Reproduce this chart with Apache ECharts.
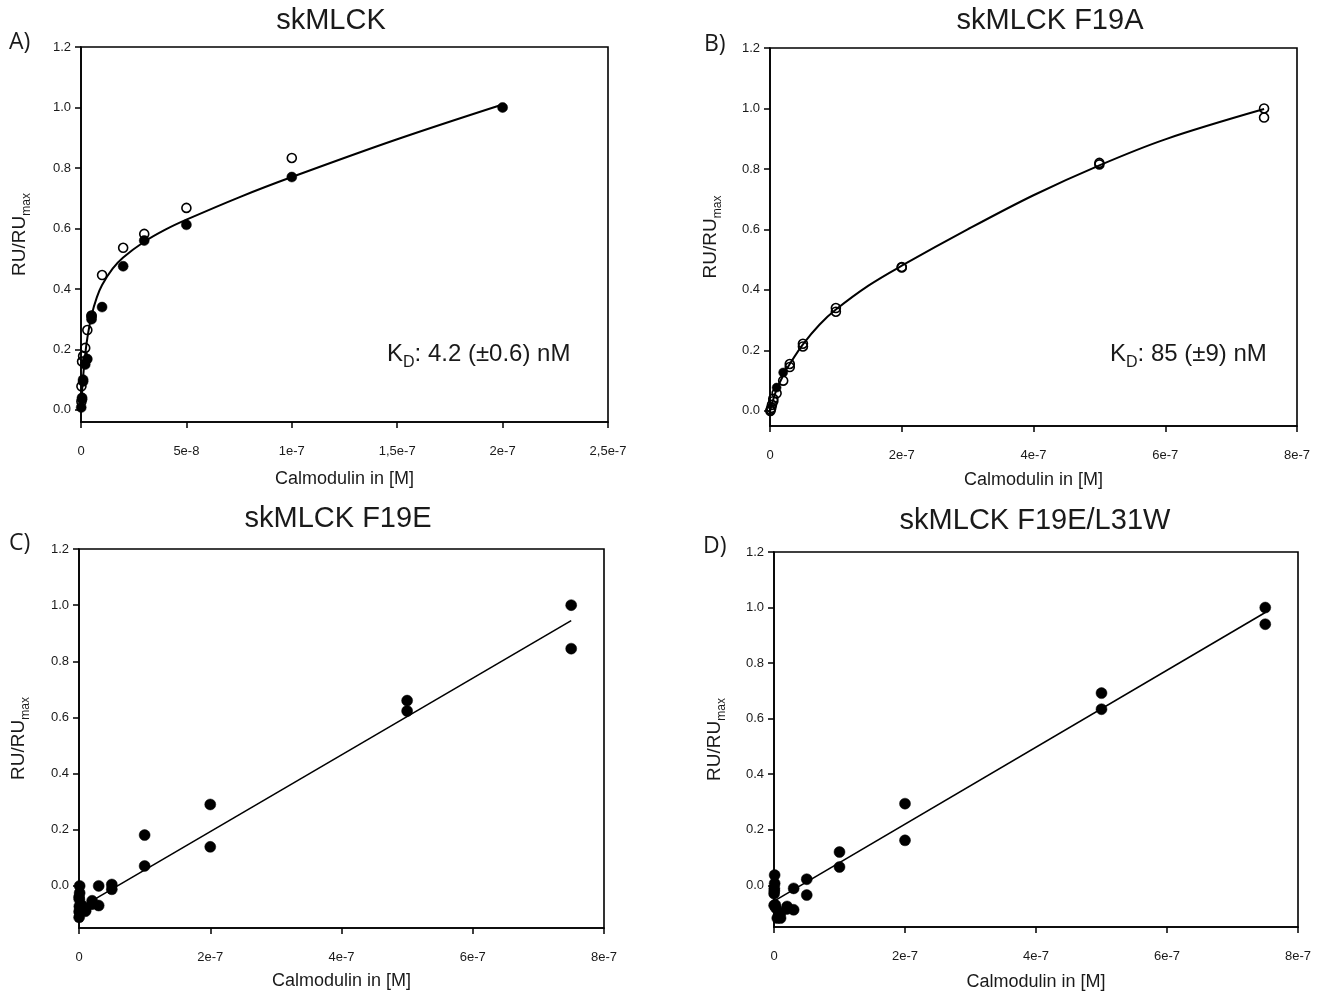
<!DOCTYPE html>
<html>
<head>
<meta charset="utf-8">
<script src="https://cdn.jsdelivr.net/npm/echarts@6/dist/echarts.min.js"></script>
<style>
html,body{margin:0;padding:0;background:#fff;}
#chart{width:1324px;height:992px;}
</style>
</head>
<body>
<div id="chart"></div>
<script>
// ---------- DATA ----------
const yTickVals = [0, 0.2, 0.4, 0.6, 0.8, 1.0, 1.2];
const yTickLabels = ['0.0', '0.2', '0.4', '0.6', '0.8', '1.0', '1.2'];
const xTickValsA = [0, 5e-8, 1e-7, 1.5e-7, 2e-7, 2.5e-7];
const xTickLabelsA = ['0', '5e-8', '1e-7', '1,5e-7', '2e-7', '2,5e-7'];
const xTickValsBCD = [0, 2e-7, 4e-7, 6e-7, 8e-7];
const xTickLabelsBCD = ['0', '2e-7', '4e-7', '6e-7', '8e-7'];
const panelTitles = ['skMLCK', 'skMLCK F19A', 'skMLCK F19E', 'skMLCK F19E/L31W'];
const panelLetters = ['A)', 'B)', 'C)', 'D)'];
const xAxisTitle = 'Calmodulin in [M]';
const kdA = '4.2 (±0.6) nM';
const kdB = '85 (±9) nM';
const yMins = [-0.04, -0.05, -0.15, -0.15];
const xMaxs = [2.5e-7, 8e-7, 8e-7, 8e-7];

// Panel A
const aFilled = [[2e-7, 1.0], [1e-7, 0.77], [5e-8, 0.612], [3e-8, 0.56], [2e-8, 0.475], [1e-8, 0.34],
  [5e-9, 0.30], [5e-9, 0.31], [3e-9, 0.168], [2e-9, 0.15], [1e-9, 0.10], [1e-9, 0.094], [5e-10, 0.04], [5e-10, 0.035], [1e-10, 0.008]];
const aOpen = [[1e-7, 0.833], [5e-8, 0.668], [3e-8, 0.582], [2e-8, 0.536], [1e-8, 0.446], [5e-9, 0.312],
  [3e-9, 0.264], [2e-9, 0.205], [1e-9, 0.178], [5e-10, 0.16], [2e-10, 0.078], [2e-10, 0.028]];
const aCurve = [[0, 0], [5e-10, 0.058], [1e-9, 0.109], [2e-9, 0.183], [3e-9, 0.237], [5e-9, 0.312], [7.5e-9, 0.372],
  [1e-8, 0.413], [1.5e-8, 0.467], [2e-8, 0.504], [3e-8, 0.556], [4e-8, 0.596], [5e-8, 0.629], [7.5e-8, 0.703],
  [1e-7, 0.77], [1.5e-7, 0.895], [2e-7, 1.01]];

// Panel B
const bOpen = [[7.5e-7, 1.0], [7.5e-7, 0.97], [5e-7, 0.82], [5e-7, 0.815], [2e-7, 0.476], [2e-7, 0.474],
  [1e-7, 0.34], [1e-7, 0.328], [5e-8, 0.222], [5e-8, 0.213], [3e-8, 0.155], [3e-8, 0.145], [2e-8, 0.10],
  [1e-8, 0.058], [5e-9, 0.04], [5e-9, 0.032], [3e-9, 0.02], [2e-9, 0.01], [1e-9, 0.004], [5e-10, 0.0]];
const bFilled = [[2e-8, 0.127], [1e-8, 0.077]];
const bCurve = [[0, 0], [5e-9, 0.038], [1e-8, 0.07], [2e-8, 0.117], [3e-8, 0.155], [5e-8, 0.22], [7.5e-8, 0.285],
  [1e-7, 0.335], [1.5e-7, 0.415], [2e-7, 0.48], [3e-7, 0.60], [4e-7, 0.713], [5e-7, 0.812], [6e-7, 0.898], [7.5e-7, 0.998]];

// Panel C
const cFilled = [[7.5e-7, 1.0], [7.5e-7, 0.845], [5e-7, 0.66], [5e-7, 0.623], [2e-7, 0.29], [2e-7, 0.139],
  [1e-7, 0.181], [1e-7, 0.071], [5e-8, 0.005], [5e-8, -0.012], [3e-8, 0.0], [3e-8, -0.07], [2e-8, -0.053],
  [2e-8, -0.065], [1e-8, -0.085], [1e-8, -0.09], [5e-9, -0.07], [1e-9, 0.0], [1e-9, -0.025], [5e-10, -0.048],
  [5e-10, -0.073], [2e-10, -0.092], [2e-10, -0.112], [1e-10, -0.04]];
const cLine = [[0, -0.08], [7.5e-7, 0.945]];

// Panel D
const dFilled = [[7.5e-7, 1.0], [7.5e-7, 0.94], [5e-7, 0.692], [5e-7, 0.634], [2e-7, 0.294], [2e-7, 0.162],
  [1e-7, 0.12], [1e-7, 0.066], [5e-8, 0.022], [5e-8, -0.035], [3e-8, -0.011], [3e-8, -0.088], [2e-8, -0.076],
  [2e-8, -0.085], [1e-8, -0.118], [1e-8, -0.10], [5e-9, -0.118], [3e-9, -0.082], [2e-9, -0.07], [1e-9, 0.037],
  [1e-9, 0.007], [5e-10, -0.011], [5e-10, -0.02], [2e-10, -0.03], [2e-10, -0.072]];
const dLine = [[0, -0.057], [7.5e-7, 0.982]];

// ---------- CHART ----------
const chart = echarts.init(document.getElementById('chart'), null, {renderer: 'canvas'});
const FONT = '"Liberation Sans", Arial, sans-serif';
const grids = [
  {left: 81, top: 47, width: 527, height: 375},
  {left: 770, top: 48, width: 527, height: 378},
  {left: 79, top: 549, width: 525, height: 379},
  {left: 774, top: 552, width: 524, height: 377}
];
const xNameGaps = [48, 45, 44, 46];
const yNameGaps = [43, 41, 42, 41];

function lbl(vals, labels) {
  return function (v) {
    for (let i = 0; i < vals.length; i++) if (Math.abs(vals[i] - v) < Math.abs(vals[1] - vals[0]) * 1e-3) return labels[i];
    return '';
  };
}

const xAxes = [], yAxes = [];
for (let i = 0; i < 4; i++) {
  const xv = i === 0 ? xTickValsA : xTickValsBCD;
  const xl = i === 0 ? xTickLabelsA : xTickLabelsBCD;
  xAxes.push({
    gridIndex: i, type: 'value', min: 0, max: xMaxs[i],
    name: xAxisTitle, nameLocation: 'middle', nameGap: xNameGaps[i],
    nameTextStyle: {fontFamily: FONT, fontSize: 18, color: '#1a1a1a'},
    axisLine: {show: true, onZero: false, lineStyle: {color: '#000', width: 1.6}},
    axisTick: {show: true, inside: false, length: 6, customValues: xv, lineStyle: {color: '#000', width: 1.5}},
    axisLabel: {show: true, margin: 23, customValues: xv, formatter: lbl(xv, xl), fontFamily: FONT, fontSize: 13, color: '#1a1a1a'},
    splitLine: {show: false}
  });
  yAxes.push({
    gridIndex: i, type: 'value', min: yMins[i], max: 1.2,
    name: '{a|RU/RU}{b|max}', nameLocation: 'middle', nameGap: yNameGaps[i], nameRotate: 90,
    nameTextStyle: {fontFamily: FONT, color: '#1a1a1a',
      rich: {a: {fontFamily: FONT, fontSize: 19, color: '#1a1a1a', verticalAlign: 'top', lineHeight: 28},
             b: {fontFamily: FONT, fontSize: 12, color: '#1a1a1a', verticalAlign: 'top', lineHeight: 28, padding: [11, 0, 0, 0]}}},
    axisLine: {show: true, onZero: false, lineStyle: {color: '#000', width: 1.6}},
    axisTick: {show: true, inside: false, length: 6, customValues: yTickVals, lineStyle: {color: '#000', width: 1.5}},
    axisLabel: {show: true, margin: 10, customValues: yTickVals, formatter: lbl(yTickVals, yTickLabels), fontFamily: FONT, fontSize: 13, color: '#1a1a1a'},
    splitLine: {show: false}
  });
}

function scatter(idx, data, filled, size) {
  return {
    type: 'scatter', xAxisIndex: idx, yAxisIndex: idx, data: data, symbol: 'circle', symbolSize: size,
    itemStyle: filled ? {color: '#000', opacity: 1, borderColor: '#000', borderWidth: 0.5} : {color: 'rgba(0,0,0,0)', opacity: 1, borderColor: '#000', borderWidth: 1.6},
    z: 5, silent: true
  };
}
function curve(idx, data, smooth, width) {
  return {
    type: 'line', xAxisIndex: idx, yAxisIndex: idx, data: data, smooth: smooth, showSymbol: false,
    lineStyle: {color: '#000', width: width}, z: 3, silent: true
  };
}

const series = [
  curve(0, aCurve, 0.35, 2),
  scatter(0, aFilled, true, 10),
  scatter(0, aOpen, false, 9),
  curve(1, bCurve, 0.35, 2),
  scatter(1, bOpen, false, 9),
  scatter(1, bFilled, true, 9),
  curve(2, cLine, false, 1.6),
  scatter(2, cFilled, true, 11),
  curve(3, dLine, false, 1.6),
  scatter(3, dFilled, true, 11)
];

const titlePos = [[331, 21], [1050, 21], [338, 519], [1035, 521]];
const letterPos = [[9, 42], [704, 44], [9, 543], [703, 546]];
const graphic = [];
for (let i = 0; i < 4; i++) {
  graphic.push({type: 'text', x: titlePos[i][0], y: titlePos[i][1], silent: true,
    style: {text: panelTitles[i], fontFamily: FONT, fontSize: 29, fill: '#1a1a1a', textAlign: 'center', textVerticalAlign: 'middle'}});
  graphic.push({type: 'text', x: letterPos[i][0], y: letterPos[i][1], silent: true,
    style: {text: panelLetters[i], fontFamily: '"Open Sans", sans-serif', fontSize: 23, fill: '#1a1a1a', textAlign: 'left', textVerticalAlign: 'middle'}});
}
const kdRich = {
  a: {fontFamily: FONT, fontSize: 24, fill: '#1a1a1a', verticalAlign: 'top', lineHeight: 30},
  b: {fontFamily: FONT, fontSize: 16, fill: '#1a1a1a', verticalAlign: 'top', lineHeight: 30, padding: [13, 0, 0, 0]}
};
graphic.push({type: 'text', x: 387, y: 357, silent: true,
  style: {text: '{a|K}{b|D}{a|: ' + kdA + '}', rich: kdRich, textAlign: 'left', textVerticalAlign: 'middle'}});
graphic.push({type: 'text', x: 1110, y: 357, silent: true,
  style: {text: '{a|K}{b|D}{a|: ' + kdB + '}', rich: kdRich, textAlign: 'left', textVerticalAlign: 'middle'}});

chart.setOption({
  animation: false,
  backgroundColor: '#fff',
  grid: grids.map(g => Object.assign({show: true, borderColor: '#000', borderWidth: 1.6, backgroundColor: 'rgba(0,0,0,0)', containLabel: false}, g)),
  xAxis: xAxes,
  yAxis: yAxes,
  series: series,
  graphic: graphic
});
</script>
</body>
</html>
